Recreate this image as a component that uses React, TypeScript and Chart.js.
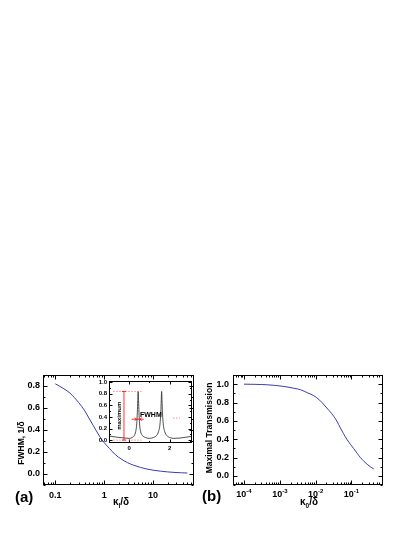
import React, { useEffect, useRef } from "react";
import { Chart, registerables } from "chart.js";

Chart.register(...registerables);

const FONT = '"Liberation Sans", Arial, Helvetica, sans-serif';

// ---------- Panel (a): FWHM vs kappa_l / delta ----------
const fwhmKappa = [0.1, 0.15, 0.2, 0.3, 0.4, 0.5, 0.6, 0.8, 1.0, 1.3, 1.7, 2.2, 3.0, 4.0, 5.5, 7.5, 10, 14, 20, 28, 38, 50];
const fwhmValues = [0.82, 0.775, 0.735, 0.65, 0.575, 0.5, 0.44, 0.345, 0.285, 0.23, 0.175, 0.138, 0.103, 0.08, 0.06, 0.045, 0.035, 0.026, 0.019, 0.014, 0.011, 0.009];
const aXTicks = [0.1, 1, 10];
const aXTickLabels = ["0.1", "1", "10"];
const aYTicks = [0, 0.2, 0.4, 0.6, 0.8];
const aYTickLabels = ["0.0", "0.2", "0.4", "0.6", "0.8"];

// ---------- Panel (b): maximal transmission vs kappa_0 / delta ----------
const transKappa = [1e-4, 2e-4, 4.6e-4, 1.3e-3, 2.5e-3, 3.8e-3, 6e-3, 8.9e-3, 0.013, 0.017, 0.024, 0.032, 0.04, 0.049, 0.06, 0.075, 0.095, 0.116, 0.145, 0.178, 0.22, 0.274, 0.34, 0.42];
const transValues = [1.0, 0.998, 0.993, 0.975, 0.955, 0.939, 0.905, 0.874, 0.825, 0.776, 0.71, 0.65, 0.59, 0.523, 0.46, 0.397, 0.34, 0.296, 0.245, 0.199, 0.16, 0.126, 0.098, 0.075];
const bXTicks = [1e-4, 1e-3, 1e-2, 1e-1];
const bXTickExponents = ["-4", "-3", "-2", "-1"];
const bYTicks = [0, 0.2, 0.4, 0.6, 0.8, 1.0];
const bYTickLabels = ["0.0", "0.2", "0.4", "0.6", "0.8", "1.0"];

// ---------- Inset: transmission spectrum ----------
const insetDetuning = [-1.0, -0.6, -0.2, 0.0, 0.15, 0.25, 0.32, 0.37, 0.4, 0.42, 0.44, 0.46, 0.48, 0.51, 0.56, 0.65, 0.8, 1.0, 1.2, 1.35, 1.45, 1.52, 1.56, 1.58, 1.6, 1.62, 1.64, 1.68, 1.75, 1.85, 2.0, 2.2, 2.5, 2.8, 3.1];
const insetTransmission = [0.07, 0.05, 0.035, 0.03, 0.045, 0.08, 0.15, 0.28, 0.48, 0.68, 0.84, 0.68, 0.48, 0.28, 0.15, 0.08, 0.045, 0.03, 0.045, 0.08, 0.15, 0.28, 0.48, 0.68, 0.84, 0.68, 0.48, 0.28, 0.15, 0.08, 0.045, 0.03, 0.035, 0.05, 0.065];
const insetXTicks = [0, 2];
const insetXTickLabels = ["0", "2"];
const insetYTicks = [0, 0.2, 0.4, 0.6, 0.8, 1.0];
const insetYTickLabels = ["0.0", "0.2", "0.4", "0.6", "0.8", "1.0"];
const insetMaximum = 0.84;
const insetHalfLevel = 0.36;

function logMinors(min: number, max: number) {
  const out: number[] = [];
  for (let e = Math.floor(Math.log10(min)); e <= Math.ceil(Math.log10(max)); e++) {
    for (let k = 2; k <= 9; k++) {
      const v = k * Math.pow(10, e);
      if (v > min && v < max) out.push(v);
    }
  }
  return out;
}
function linMinors(min: number, max: number, step: number) {
  const out: number[] = [];
  for (let i = Math.ceil(min / step - 1e-9); i * step <= max + 1e-9; i++) out.push(+(i * step).toFixed(6));
  return out;
}

function font(size: number) {
  return `bold ${size}px ${FONT}`;
}

type Area = { left: number; top: number; right: number; bottom: number };

type Spec = {
  xs: number[];
  ys: number[];
  color: string;
  lineWidth: number;
  xType: "logarithmic" | "linear";
  xMin: number;
  xMax: number;
  yMin: number;
  yMax: number;
  xTicks: number[];
  xLabels: string[] | null;
  yTicks: number[];
  yLabels: string[];
  minorX: number[];
  minorY: number[];
  tickFont: number;
  xPad: number;
  yPad: number;
  area: Area;
  yAxisW: number;
  xAxisH: number;
  majorLen: number;
  minorLen: number;
  extra?: (chart: any) => void;
};

function makeConfig(spec: Spec): any {
  const decor = {
    id: "decor",
    afterDraw(chart: any) {
      const { ctx, chartArea: a } = chart;
      const xs = chart.scales.x;
      const ys = chart.scales.y;
      ctx.save();
      ctx.strokeStyle = "#000";
      ctx.lineWidth = 1;
      const l = Math.round(a.left) + 0.5;
      const r = Math.round(a.right) - 0.5;
      const t = Math.round(a.top) + 0.5;
      const b = Math.round(a.bottom) - 0.5;
      ctx.strokeRect(l, t, r - l, b - t);
      ctx.beginPath();
      const vx = (v: number, len: number) => {
        const p = Math.round(xs.getPixelForValue(v)) + 0.5;
        ctx.moveTo(p, b);
        ctx.lineTo(p, b - len);
        ctx.moveTo(p, t);
        ctx.lineTo(p, t + len);
      };
      const hy = (v: number, len: number) => {
        const p = Math.round(ys.getPixelForValue(v)) + 0.5;
        ctx.moveTo(l, p);
        ctx.lineTo(l + len, p);
        ctx.moveTo(r, p);
        ctx.lineTo(r - len, p);
      };
      spec.minorX.forEach((v) => vx(v, spec.minorLen));
      spec.xTicks.forEach((v) => vx(v, spec.majorLen));
      spec.minorY.forEach((v) => hy(v, spec.minorLen));
      spec.yTicks.forEach((v) => hy(v, spec.majorLen));
      ctx.stroke();
      ctx.restore();
      if (spec.extra) {
        ctx.save();
        spec.extra(chart);
        ctx.restore();
      }
    },
  };
  const padding = {
    left: spec.area.left - spec.yAxisW,
    top: spec.area.top,
    right: 415 - spec.area.right,
    bottom: 537 - spec.area.bottom - spec.xAxisH,
  };
  return {
    type: "scatter",
    data: {
      datasets: [
        {
          data: spec.xs.map((x, i) => ({ x, y: spec.ys[i] })),
          showLine: true,
          borderColor: spec.color,
          borderWidth: spec.lineWidth,
          pointRadius: 0,
          cubicInterpolationMode: "monotone",
          fill: false,
        },
      ],
    },
    options: {
      responsive: false,
      animation: false,
      devicePixelRatio: 1,
      layout: { padding },
      plugins: { legend: { display: false }, tooltip: { enabled: false } },
      events: [],
      scales: {
        x: {
          type: spec.xType,
          min: spec.xMin,
          max: spec.xMax,
          position: "bottom",
          grid: { display: false, drawTicks: false },
          border: { display: false },
          ticks: {
            display: !!spec.xLabels,
            font: { family: FONT, size: spec.tickFont, weight: "bold" },
            color: "#000",
            padding: spec.xPad,
            maxRotation: 0,
            minRotation: 0,
            autoSkip: false,
            callback: (_v: any, i: number) => (spec.xLabels ? spec.xLabels[i] : ""),
          },
          afterBuildTicks: (s: any) => {
            s.ticks = spec.xTicks.map((v) => ({ value: v }));
          },
          afterFit: (s: any) => {
            s.height = spec.xAxisH;
          },
        },
        y: {
          type: "linear",
          min: spec.yMin,
          max: spec.yMax,
          position: "left",
          grid: { display: false, drawTicks: false },
          border: { display: false },
          ticks: {
            font: { family: FONT, size: spec.tickFont, weight: "bold" },
            color: "#000",
            padding: spec.yPad,
            autoSkip: false,
            callback: (_v: any, i: number) => spec.yLabels[i],
          },
          afterBuildTicks: (s: any) => {
            s.ticks = spec.yTicks.map((v) => ({ value: v }));
          },
          afterFit: (s: any) => {
            s.width = spec.yAxisW;
          },
        },
      },
    },
    plugins: [decor],
  };
}

function drawSubTitle(ctx: any, main: string, sub: string, rest: string, cx: number, y: number, size: number) {
  ctx.fillStyle = "#000";
  ctx.textBaseline = "alphabetic";
  ctx.textAlign = "left";
  ctx.font = font(size);
  const w1 = ctx.measureText(main).width;
  const w3 = ctx.measureText(rest).width;
  ctx.font = font(size * 0.65);
  const w2 = ctx.measureText(sub).width;
  let x = cx - (w1 + w2 + w3) / 2;
  ctx.font = font(size);
  ctx.fillText(main, x, y);
  x += w1;
  ctx.font = font(size * 0.65);
  ctx.fillText(sub, x, y + size * 0.3);
  x += w2;
  ctx.font = font(size);
  ctx.fillText(rest, x, y);
}

function drawRotated(ctx: any, s: string, x: number, y: number, size: number) {
  ctx.save();
  ctx.translate(x, y);
  ctx.rotate(-Math.PI / 2);
  ctx.font = font(size);
  ctx.fillStyle = "#000";
  ctx.textAlign = "center";
  ctx.textBaseline = "middle";
  ctx.fillText(s, 0, 0);
  ctx.restore();
}

const specA: Spec = {
  xs: fwhmKappa,
  ys: fwhmValues,
  color: "#3b3bb0",
  lineWidth: 1,
  xType: "logarithmic",
  xMin: 0.0561,
  xMax: 68.7,
  yMin: -0.1,
  yMax: 0.9,
  xTicks: aXTicks,
  xLabels: aXTickLabels,
  yTicks: aYTicks,
  yLabels: aYTickLabels,
  minorX: logMinors(0.0561, 68.7),
  minorY: linMinors(-0.1, 0.9, 0.1),
  tickFont: 9,
  xPad: 5,
  yPad: 3,
  area: { left: 43, top: 375, right: 194, bottom: 485 },
  yAxisW: 25,
  xAxisH: 16,
  majorLen: 4,
  minorLen: 2,
  extra: (chart) => {
    const { ctx } = chart;
    drawRotated(ctx, "FWHM, 1/\u03b4", 22, 443, 8.5);
    ctx.font = font(15);
    ctx.fillStyle = "#000";
    ctx.textAlign = "left";
    ctx.textBaseline = "middle";
    ctx.fillText("(a)", 15, 498);
    drawSubTitle(ctx, "\u03ba", "l", "/\u03b4", 121, 505, 10);
  },
};

const specB: Spec = {
  xs: transKappa,
  ys: transValues,
  color: "#3b3bb0",
  lineWidth: 1,
  xType: "logarithmic",
  xMin: 4.93e-5,
  xMax: 0.759,
  yMin: -0.1,
  yMax: 1.1,
  xTicks: bXTicks,
  xLabels: null,
  yTicks: bYTicks,
  yLabels: bYTickLabels,
  minorX: logMinors(4.93e-5, 0.759),
  minorY: linMinors(-0.1, 1.1, 0.1),
  tickFont: 9,
  xPad: 5,
  yPad: 4,
  area: { left: 233, top: 375, right: 383, bottom: 485 },
  yAxisW: 20,
  xAxisH: 16,
  majorLen: 4,
  minorLen: 2,
  extra: (chart) => {
    const { ctx } = chart;
    const xs = chart.scales.x;
    const bottom = chart.chartArea.bottom;
    bXTicks.forEach((v, i) => {
      ctx.font = font(9);
      const w1 = ctx.measureText("10").width;
      ctx.font = font(6);
      const w2 = ctx.measureText(bXTickExponents[i]).width;
      const cx = xs.getPixelForValue(v);
      const x0 = cx - (w1 + w2) / 2;
      ctx.fillStyle = "#000";
      ctx.textAlign = "left";
      ctx.textBaseline = "alphabetic";
      ctx.font = font(9);
      ctx.fillText("10", x0, bottom + 12);
      ctx.font = font(6);
      ctx.fillText(bXTickExponents[i], x0 + w1, bottom + 7.5);
    });
    drawRotated(ctx, "Maximal Transmission", 210, 428, 8.5);
    ctx.font = font(15);
    ctx.fillStyle = "#000";
    ctx.textAlign = "left";
    ctx.textBaseline = "middle";
    ctx.fillText("(b)", 202, 497);
    drawSubTitle(ctx, "\u03ba", "0", "/\u03b4", 309, 505, 10);
  },
};

const specI: Spec = {
  xs: insetDetuning,
  ys: insetTransmission,
  color: "#222",
  lineWidth: 0.8,
  xType: "linear",
  xMin: -1,
  xMax: 3.1,
  yMin: -0.05,
  yMax: 1.02,
  xTicks: insetXTicks,
  xLabels: insetXTickLabels,
  yTicks: insetYTicks,
  yLabels: insetYTickLabels,
  minorX: linMinors(-1, 3.1, 1),
  minorY: linMinors(-0.05, 1.02, 0.1),
  tickFont: 6,
  xPad: 2,
  yPad: 2,
  area: { left: 109, top: 381, right: 192, bottom: 443 },
  yAxisW: 12,
  xAxisH: 10,
  majorLen: 3,
  minorLen: 1.5,
  extra: (chart) => {
    const { ctx } = chart;
    const xs = chart.scales.x;
    const ys = chart.scales.y;
    const px = (v: number) => xs.getPixelForValue(v);
    const py = (v: number) => ys.getPixelForValue(v);
    const seg = (x1: number, y1: number, x2: number, y2: number) => {
      ctx.beginPath();
      ctx.moveTo(x1, y1);
      ctx.lineTo(x2, y2);
      ctx.stroke();
    };
    ctx.lineWidth = 0.8;
    ctx.strokeStyle = "#ff7070";
    ctx.setLineDash([1.5, 1.5]);
    seg(px(-0.79), py(insetMaximum), px(0.61), py(insetMaximum));
    seg(px(-0.79), py(0), px(0.61), py(0));
    seg(px(2.16), py(insetHalfLevel + 0.02), px(2.5), py(insetHalfLevel + 0.02));
    ctx.setLineDash([]);
    ctx.strokeStyle = "#ff0000";
    const vx = px(-0.26);
    seg(vx, py(0), vx, py(insetMaximum));
    seg(vx - 2, py(0), vx + 2, py(0));
    seg(vx - 2, py(insetMaximum), vx + 2, py(insetMaximum));
    const hy = py(insetHalfLevel);
    seg(px(0.12), hy, px(0.72), hy);
    seg(px(0.36), hy, px(0.36) - 2, hy - 1.5);
    seg(px(0.36), hy, px(0.36) - 2, hy + 1.5);
    seg(px(0.52), hy, px(0.52) + 2, hy - 1.5);
    seg(px(0.52), hy, px(0.52) + 2, hy + 1.5);
    drawRotated(ctx, "maximum", px(-0.5), py(0.42), 6);
    ctx.font = font(7);
    ctx.fillStyle = "#000";
    ctx.textAlign = "left";
    ctx.textBaseline = "middle";
    ctx.fillText("FWHM", px(0.53), py(0.44));
  },
};

export default function App() {
  const refA = useRef<HTMLCanvasElement>(null);
  const refB = useRef<HTMLCanvasElement>(null);
  const refI = useRef<HTMLCanvasElement>(null);

  useEffect(() => {
    const charts = [
      new Chart(refA.current as HTMLCanvasElement, makeConfig(specA)),
      new Chart(refB.current as HTMLCanvasElement, makeConfig(specB)),
      new Chart(refI.current as HTMLCanvasElement, makeConfig(specI)),
    ];
    return () => charts.forEach((c) => c.destroy());
  }, []);

  const cs: React.CSSProperties = { position: "absolute", left: 0, top: 0, width: 415, height: 537 };
  return (
    <div style={{ position: "absolute", left: 0, top: 0, width: 415, height: 537, background: "#fff" }}>
      <canvas ref={refA} width={415} height={537} style={cs} />
      <canvas ref={refB} width={415} height={537} style={cs} />
      <canvas ref={refI} width={415} height={537} style={cs} />
    </div>
  );
}
